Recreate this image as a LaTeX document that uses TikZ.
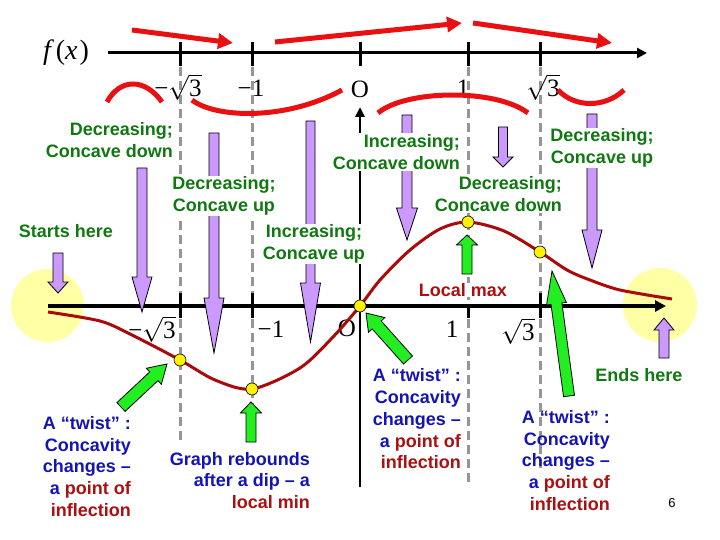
\documentclass[tikz,border=0pt]{standalone}
\usepackage{fontspec}
\usetikzlibrary{arrows.meta,calc}
\newfontfamily\labfont{Liberation Sans}
\newfontfamily\numfont{Liberation Serif}
\definecolor{labgreen}{RGB}{16,120,16}
\definecolor{labblue}{RGB}{20,20,180}
\definecolor{labred}{RGB}{170,16,16}
\definecolor{brightred}{RGB}{232,16,16}
\definecolor{curvered}{RGB}{170,10,10}
\definecolor{purplefill}{RGB}{204,153,255}
\definecolor{greenfill}{RGB}{34,238,34}
\definecolor{paleyellow}{RGB}{255,255,165}
\definecolor{dashgray}{RGB}{150,150,150}
\newcommand\blockarrow[6]{%
  \coordinate (bT) at #2; \coordinate (bP) at #3;
  \coordinate (bH) at ($(bP)!#6!(bT)$);
  \draw[#1] ($(bT)!#4!90:(bP)$) -- ($(bH)!#4!90:(bP)$) -- ($(bH)!#5!90:(bP)$) -- (bP) -- ($(bH)!#5!-90:(bP)$) -- ($(bH)!#4!-90:(bP)$) -- ($(bT)!#4!-90:(bP)$) -- cycle;
}
\tikzset{
  lab/.style={font=\labfont\bfseries\fontsize{18}{22}\selectfont, inner sep=1pt},
  glab/.style={lab, text=labgreen, fill=white},
  blab/.style={font=\labfont\bfseries\fontsize{18}{21.75}\selectfont, inner sep=1pt, text=labblue, align=right, anchor=east},
  num/.style={font=\numfont\fontsize{25}{30}\selectfont, inner sep=0pt},
  dashline/.style={draw=dashgray, line width=3pt, dash pattern=on 9pt off 5pt},
  axisline/.style={draw=black, line width=3pt},
  tickline/.style={draw=black, line width=3pt},
  redarrow/.style={draw=brightred, line width=5pt, -{Triangle[length=15pt,width=15pt]}},
  redcurve/.style={draw=brightred, line width=5pt},
  graph/.style={draw=curvered, line width=3pt},
  purp/.style={fill=purplefill, draw=black, line width=0.8pt},
  grn/.style={fill=greenfill, draw=black, line width=0.8pt},
  dot/.style={fill=yellow, draw=black, line width=0.6pt},
  halo/.style={fill=paleyellow}
}
\begin{document}
\begin{tikzpicture}[x=1pt,y=-1pt]
\useasboundingbox (0,0) rectangle (720,540);
% halos
\fill[halo] (47.5,305.5) circle[radius=36.5pt];
\fill[halo] (660,305) circle[radius=37pt];
% dashed guides
\foreach \x/\b in {180/442,252/442,468/487,540/473} \draw[dashline] (\x,67) -- (\x,\b);
% top number line
\node[inner sep=0pt] (fx) at (66,53) {\numfont\fontsize{28}{30}\selectfont\itshape f\hspace{5pt}\upshape(\itshape x\hspace{2pt}\upshape)};
\coordinate (ta0) at (108,53);
\coordinate (ta1) at (647,53);
\draw[axisline, -{Triangle[length=10pt,width=10pt]}] (ta0) -- (ta1);
\foreach \x in {180,252,360,468,540} \draw[tickline] (\x,42) -- (\x,66);
\node[num] (t1) at (178,87) {−$\sqrt{\hbox{\numfont 3}}$};
\node[num] (t2) at (251,88) {−1};
\node[num] (t3) at (360,89) {O};
\node[num] (t4) at (463,88) {1};
\node[num] (t5) at (543,87) {$\sqrt{\hbox{\numfont 3}}$};
% red sign arrows
\coordinate (r1a) at (132,30); \coordinate (r1b) at (233,43);
\coordinate (r2a) at (275,42); \coordinate (r2b) at (462,23);
\coordinate (r3a) at (473,23); \coordinate (r3b) at (612,43);
\draw[redarrow] (r1a) -- (r1b);
\draw[redarrow] (r2a) -- (r2b);
\draw[redarrow] (r3a) -- (r3b);
% concavity sketches
\draw[redcurve] (107,102) .. controls (120,78) and (145,78) .. (162,102);
\draw[redcurve] (192,100) .. controls (215,118) and (285,121) .. (342,90);
\draw[redcurve] (378,113) .. controls (405,90) and (495,88) .. (528,113);
\draw[redcurve] (558,90) .. controls (575,108) and (605,108) .. (624,90);
% lower axes
\coordinate (ya0) at (360,487); \coordinate (ya1) at (360,107);
\draw[draw=black, line width=2.5pt, -{Triangle[length=10pt,width=9pt]}] (ya0) -- (ya1);
\coordinate (xa0) at (48,306); \coordinate (xa1) at (666,306);
\draw[draw=black, line width=3.5pt, -{Triangle[length=11pt,width=11pt]}] (xa0) -- (xa1);
\foreach \x in {180,252,540} \draw[tickline] (\x,293) -- (\x,318);
\draw[tickline] (468,306) -- (468,318);
\node[num] (b1) at (152,329) {−$\sqrt{\hbox{\numfont 3}}$};
\node[num] (b2) at (271,329) {−1};
\node[num] (b3) at (347,328) {O};
\node[num] (b4) at (452,329) {1};
\node[num] (b5) at (518,331) {$\sqrt{\hbox{\numfont 3}}$};
% graph
\draw[graph] plot[smooth, tension=0.5] coordinates {(48,312) (100,321) (130,334) (180,360) (215,380) (252,389) (300,368) (333,337) (360,306) (380,280) (410,250) (440,229) (468,222) (504,231) (540,252) (567,270) (590,280) (620,290) (672,299)};
% purple arrows
\blockarrow{purp}{(58,253)}{(58,293)}{5pt}{10pt}{11pt}
\blockarrow{purp}{(142,168)}{(142,312)}{5pt}{10pt}{35pt}
\blockarrow{purp}{(214,133)}{(214,353)}{5pt}{10pt}{55pt}
\blockarrow{purp}{(310.5,121)}{(310.5,342)}{4.5pt}{10pt}{59pt}
\blockarrow{purp}{(407,115)}{(407,240)}{5pt}{10.5pt}{32pt}
\blockarrow{purp}{(503,127)}{(503,167)}{4.5pt}{10pt}{10pt}
\blockarrow{purp}{(592,114)}{(592,268)}{5pt}{10pt}{38pt}
\blockarrow{purp}{(664,358)}{(664,318)}{5pt}{10pt}{12pt}
% green region labels
\node[glab, anchor=east, align=right] (l1) at (174,140) {Decreasing;\\Concave down};
\node[glab, align=center] (l2) at (224,196) {Decreasing;\\Concave up};
\node[glab] (l3) at (66,231) {Starts here};
\node[glab, align=center] (l4) at (314,244) {Increasing;\\Concave up};
\node[glab, anchor=east, align=right] (l5) at (461,152) {Increasing;\\Concave down};
\node[glab, anchor=east, align=right] (l6) at (563,194) {Decreasing;\\Concave down};
\node[glab, align=center] (l7) at (602,148) {Decreasing;\\Concave up};
\node[lab, text=labred, fill=white, inner sep=0.5pt] (l8) at (463,290) {Local max};
\node[lab, text=labgreen] (l9) at (639,375) {Ends here};
% green arrows
\blockarrow{grn}{(467,274)}{(467,235)}{5pt}{10.5pt}{10pt}
\blockarrow{grn}{(251,442)}{(251,402)}{5pt}{10.5pt}{11pt}
\blockarrow{grn}{(121,407)}{(167,364)}{6pt}{11pt}{18pt}
\blockarrow{grn}{(408,360)}{(366,313)}{6pt}{11pt}{16pt}
\blockarrow{grn}{(569,396)}{(552,271)}{5.5pt}{10pt}{33pt}
% points
\foreach \p in {{(180,360)},{(252,389)},{(360,306)},{(468,222)},{(540,252)}}
  \draw[dot] \p circle[radius=6pt];
% blue notes
\node[blab] (n1) at (132,466.5) {A “twist” :\\Concavity\\changes –\\a \textcolor{labred}{point of}\\\textcolor{labred}{inflection}};
\node[blab] (n2) at (311,480.5) {Graph rebounds\\after a dip – a\\\textcolor{labred}{local min}};
\node[blab] (n3) at (462,419) {A “twist” :\\Concavity\\changes –\\a \textcolor{labred}{point of}\\\textcolor{labred}{inflection}};
\node[blab] (n4) at (611,460.5) {A “twist” :\\Concavity\\changes –\\a \textcolor{labred}{point of}\\\textcolor{labred}{inflection}};
\node[font=\labfont\fontsize{13}{15}\selectfont, inner sep=0pt] (pg) at (672,503) {6};
\end{tikzpicture}
\end{document}
